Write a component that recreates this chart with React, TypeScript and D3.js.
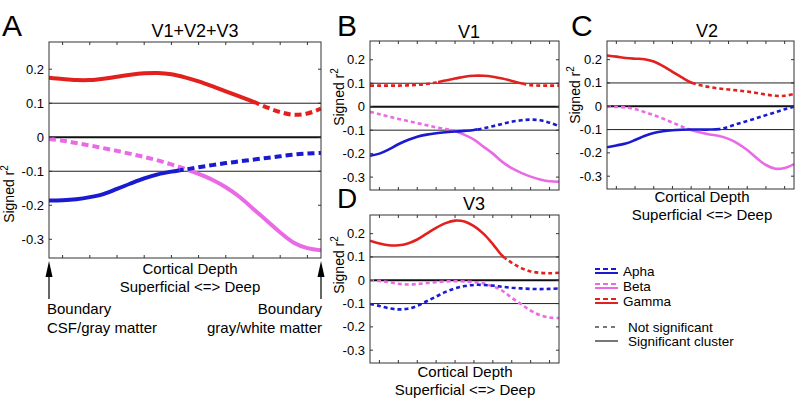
import React, { useEffect, useRef } from 'react';
import * as d3 from 'd3';

// cortical depth samples (box spans 0..10)
const depth = [0, 0.5, 1, 1.5, 2, 2.5, 3, 3.5, 4, 4.5, 5, 5.5, 6, 6.5, 7, 7.5, 8, 8.5, 9, 9.5, 10];

// V1+V2+V3
const allAlpha = [-0.186, -0.185, -0.182, -0.176, -0.167, -0.152, -0.136, -0.121, -0.109, -0.101, -0.095, -0.088, -0.082, -0.076, -0.071, -0.066, -0.061, -0.056, -0.051, -0.048, -0.046];
const allBeta = [-0.005, -0.01, -0.017, -0.024, -0.032, -0.04, -0.049, -0.058, -0.068, -0.08, -0.093, -0.108, -0.125, -0.147, -0.175, -0.21, -0.245, -0.28, -0.31, -0.326, -0.332];
const allGamma = [0.175, 0.171, 0.168, 0.168, 0.172, 0.178, 0.184, 0.188, 0.189, 0.185, 0.176, 0.164, 0.15, 0.135, 0.12, 0.105, 0.088, 0.074, 0.066, 0.07, 0.084];

// V1
const v1Alpha = [-0.209, -0.2, -0.182, -0.16, -0.142, -0.128, -0.119, -0.113, -0.109, -0.106, -0.103, -0.099, -0.092, -0.083, -0.073, -0.064, -0.058, -0.055, -0.058, -0.068, -0.083];
const v1Beta = [-0.022, -0.032, -0.042, -0.052, -0.061, -0.07, -0.079, -0.088, -0.095, -0.104, -0.12, -0.14, -0.17, -0.2, -0.235, -0.262, -0.282, -0.298, -0.31, -0.318, -0.32];
const v1Gamma = [0.09, 0.09, 0.09, 0.09, 0.091, 0.093, 0.097, 0.103, 0.112, 0.12, 0.128, 0.132, 0.132, 0.128, 0.12, 0.11, 0.1, 0.092, 0.09, 0.09, 0.09];

// V2
const v2Alpha = [-0.176, -0.168, -0.16, -0.145, -0.128, -0.115, -0.107, -0.103, -0.101, -0.1, -0.1, -0.1, -0.098, -0.088, -0.075, -0.063, -0.051, -0.038, -0.026, -0.013, -0.002];
const v2Beta = [-0.002, -0.003, -0.005, -0.012, -0.025, -0.038, -0.053, -0.07, -0.087, -0.102, -0.113, -0.121, -0.128, -0.14, -0.16, -0.188, -0.222, -0.252, -0.268, -0.265, -0.248];
const v2Gamma = [0.218, 0.213, 0.207, 0.204, 0.202, 0.192, 0.172, 0.148, 0.124, 0.102, 0.09, 0.082, 0.076, 0.072, 0.068, 0.063, 0.057, 0.05, 0.045, 0.045, 0.053];

// V3
const v3Alpha = [-0.102, -0.11, -0.12, -0.125, -0.122, -0.11, -0.09, -0.07, -0.05, -0.035, -0.025, -0.02, -0.02, -0.023, -0.028, -0.032, -0.035, -0.037, -0.038, -0.037, -0.035];
const v3Beta = [0, -0.003, -0.008, -0.015, -0.018, -0.016, -0.012, -0.008, -0.005, -0.004, -0.005, -0.008, -0.013, -0.026, -0.045, -0.075, -0.103, -0.13, -0.15, -0.16, -0.162];
const v3Gamma = [0.17, 0.158, 0.15, 0.15, 0.158, 0.175, 0.2, 0.225, 0.245, 0.256, 0.252, 0.232, 0.2, 0.155, 0.105, 0.075, 0.052, 0.038, 0.032, 0.03, 0.032];

// significant clusters, [from, to] in depth units
const allSig = { alpha: [[0, 4.8]], beta: [[5.1, 10]], gamma: [[0, 7.65]] };
const v1Sig = { alpha: [[0, 5.7]], beta: [[4.3, 10]], gamma: [[3.6, 8.1]] };
const v2Sig = { alpha: [[0, 6.05]], beta: [[4.45, 10]], gamma: [[0, 4.6]] };
const v3Sig = { alpha: [], beta: [], gamma: [[0, 7.1]] };

const yTicks = [-0.3, -0.2, -0.1, 0, 0.1, 0.2];
const xTicks = [0.5, 1.5, 2.5, 3.5, 4.5, 5.5, 6.5, 7.5, 8.5, 9.5];
const refLines = [-0.1, 0.1];

const bandNames = ['Apha', 'Beta', 'Gamma'];
const COLORS = { alpha: '#1a1ad0', beta: '#ea6ae6', gamma: '#e2211e' };
const FONT = '"Liberation Sans", Arial, sans-serif';

const panels = [
  {
    id: 'A', title: 'V1+V2+V3', left: 49, right: 321, top: 42, bottom: 258,
    data: { alpha: allAlpha, beta: allBeta, gamma: allGamma }, sig: allSig,
    lw: 4, dash: '7,4', titleX: 195, titleY: 37, letterX: 2, letterY: 36,
    ylabX: 14, ylabY: 194, xlab: { x: 190, y1: 274, y2: 292 }
  },
  {
    id: 'B', title: 'V1', left: 370, right: 559, top: 41, bottom: 190,
    data: { alpha: v1Alpha, beta: v1Beta, gamma: v1Gamma }, sig: v1Sig,
    lw: 2.6, dash: '4,3', titleX: 469, titleY: 38, letterX: 337, letterY: 36,
    ylabX: 344, ylabY: 97, xlab: null
  },
  {
    id: 'C', title: 'V2', left: 607, right: 794, top: 41, bottom: 189,
    data: { alpha: v2Alpha, beta: v2Beta, gamma: v2Gamma }, sig: v2Sig,
    lw: 2.6, dash: '4,3', titleX: 707, titleY: 37, letterX: 571, letterY: 36,
    ylabX: 580, ylabY: 95, xlab: { x: 702, y1: 202, y2: 220 }
  },
  {
    id: 'D', title: 'V3', left: 370, right: 559, top: 215, bottom: 363,
    data: { alpha: v3Alpha, beta: v3Beta, gamma: v3Gamma }, sig: v3Sig,
    lw: 2.6, dash: '4,3', titleX: 474, titleY: 210, letterX: 337, letterY: 208,
    ylabX: 344, ylabY: 265, xlab: { x: 465, y1: 377, y2: 395 }
  }
];

const App = () => {
  const svgRef = useRef(null);

  useEffect(() => {
    const svg = d3.select(svgRef.current);
    svg.selectAll('*').remove();
    const defs = svg.append('defs');

    panels.forEach(p => {
      const x = d3.scaleLinear().domain([0, 10]).range([p.left, p.right]);
      const y = d3.scaleLinear().domain([-0.355, 0.28]).range([p.bottom, p.top]);
      const g = svg.append('g');

      // reference lines
      g.selectAll('.ref')
        .data(refLines)
        .join('line')
        .attr('x1', p.left).attr('x2', p.right)
        .attr('y1', d => y(d)).attr('y2', d => y(d))
        .attr('stroke', '#222').attr('stroke-width', 1);
      g.append('line')
        .attr('x1', p.left).attr('x2', p.right)
        .attr('y1', y(0)).attr('y2', y(0))
        .attr('stroke', '#111').attr('stroke-width', 2);

      const line = d3.line()
        .x((d, i) => x(depth[i]))
        .y(d => y(d))
        .curve(d3.curveCatmullRom.alpha(0.5));

      ['gamma', 'beta', 'alpha'].forEach(key => {
        const vals = p.data[key];
        const sig = p.sig[key];
        // complement of significant ranges
        const nonSig = [];
        let cur = 0;
        sig.forEach(([a, b]) => { if (a > cur) nonSig.push([cur, a]); cur = b; });
        if (cur < 10) nonSig.push([cur, 10]);

        const makeClip = (id, ranges) => {
          const cp = defs.append('clipPath').attr('id', id);
          ranges.forEach(([a, b]) => {
            cp.append('rect')
              .attr('x', x(a)).attr('width', x(b) - x(a))
              .attr('y', p.top - 10).attr('height', p.bottom - p.top + 20);
          });
        };
        const sid = `clip-${p.id}-${key}-s`;
        const nid = `clip-${p.id}-${key}-n`;
        makeClip(sid, sig);
        makeClip(nid, nonSig);

        if (nonSig.length) {
          g.append('path')
            .attr('d', line(vals))
            .attr('clip-path', `url(#${nid})`)
            .attr('fill', 'none')
            .attr('stroke', COLORS[key])
            .attr('stroke-width', p.lw)
            .attr('stroke-dasharray', p.dash);
        }
        if (sig.length) {
          g.append('path')
            .attr('d', line(vals))
            .attr('clip-path', `url(#${sid})`)
            .attr('fill', 'none')
            .attr('stroke', COLORS[key])
            .attr('stroke-width', p.lw);
        }
      });

      // box
      g.append('rect')
        .attr('x', p.left).attr('y', p.top)
        .attr('width', p.right - p.left).attr('height', p.bottom - p.top)
        .attr('fill', 'none').attr('stroke', '#333').attr('stroke-width', 1);

      // ticks, inward
      xTicks.forEach(t => {
        g.append('line').attr('x1', x(t)).attr('x2', x(t)).attr('y1', p.top).attr('y2', p.top + 3).attr('stroke', '#333');
        g.append('line').attr('x1', x(t)).attr('x2', x(t)).attr('y1', p.bottom).attr('y2', p.bottom - 3).attr('stroke', '#333');
      });
      yTicks.forEach(t => {
        g.append('line').attr('x1', p.left).attr('x2', p.left + 3).attr('y1', y(t)).attr('y2', y(t)).attr('stroke', '#333');
        g.append('line').attr('x1', p.right).attr('x2', p.right - 3).attr('y1', y(t)).attr('y2', y(t)).attr('stroke', '#333');
        g.append('text')
          .attr('x', p.left - 5).attr('y', y(t))
          .attr('text-anchor', 'end').attr('dominant-baseline', 'central')
          .style('font-family', FONT).style('font-size', '13px')
          .text(t === 0 ? '0' : d3.format('.1f')(t).replace('−', '-'));
      });

      // titles & letters
      g.append('text').attr('x', p.titleX).attr('y', p.titleY).attr('text-anchor', 'middle')
        .style('font-family', FONT).style('font-size', '18px').text(p.title);
      g.append('text').attr('x', p.letterX).attr('y', p.letterY)
        .style('font-family', FONT).style('font-size', p.id === 'D' ? '28px' : '30px').text(p.id);

      // y label
      const yl = g.append('text')
        .attr('transform', `translate(${p.ylabX},${p.ylabY}) rotate(-90)`)
        .attr('text-anchor', 'middle')
        .style('font-family', FONT).style('font-size', '14px');
      yl.append('tspan').text('Signed r');
      yl.append('tspan').attr('dy', -6).style('font-size', '10px').text('2');

      if (p.xlab) {
        g.append('text').attr('x', p.xlab.x).attr('y', p.xlab.y1).attr('text-anchor', 'middle')
          .style('font-family', FONT).style('font-size', '15px').text('Cortical Depth');
        g.append('text').attr('x', p.xlab.x).attr('y', p.xlab.y2).attr('text-anchor', 'middle')
          .style('font-family', FONT).style('font-size', '15px').text('Superficial <=> Deep');
      }

      if (p.id === 'A') {
        [p.left, p.right].forEach(ax => {
          g.append('line').attr('x1', ax).attr('x2', ax).attr('y1', 299).attr('y2', 274)
            .attr('stroke', '#000').attr('stroke-width', 1.2);
          g.append('path')
            .attr('d', `M${ax},261 L${ax - 3.5},277 L${ax + 3.5},277 Z`)
            .attr('fill', '#000');
        });
        const txt = (s, tx, ty, anchor) => g.append('text').attr('x', tx).attr('y', ty)
          .attr('text-anchor', anchor).style('font-family', FONT).style('font-size', '15px').text(s);
        txt('Boundary', p.left - 2, 314, 'start');
        txt('CSF/gray matter', p.left - 2, 333, 'start');
        txt('Boundary', p.right + 1, 314, 'end');
        txt('gray/white matter', p.right + 1, 333, 'end');
      }
    });

    // legend
    const lg = svg.append('g');
    const lx0 = 595, lx1 = 618;
    ['alpha', 'beta', 'gamma'].forEach((key, i) => {
      const ly = 271 + i * 15;
      lg.append('line').attr('x1', lx0).attr('x2', lx1).attr('y1', ly - 2).attr('y2', ly - 2)
        .attr('stroke', COLORS[key]).attr('stroke-width', 2).attr('stroke-dasharray', '5,3');
      lg.append('line').attr('x1', lx0).attr('x2', lx1).attr('y1', ly + 2).attr('y2', ly + 2)
        .attr('stroke', COLORS[key]).attr('stroke-width', 2);
      lg.append('text').attr('x', 623).attr('y', ly).attr('dominant-baseline', 'central')
        .style('font-family', FONT).style('font-size', '13.5px').text(bandNames[i]);
    });
    lg.append('line').attr('x1', lx0).attr('x2', lx1).attr('y1', 327).attr('y2', 327)
      .attr('stroke', '#777').attr('stroke-width', 2).attr('stroke-dasharray', '4,4');
    lg.append('text').attr('x', 628).attr('y', 327).attr('dominant-baseline', 'central')
      .style('font-family', FONT).style('font-size', '13.5px').text('Not significant');
    lg.append('line').attr('x1', lx0).attr('x2', lx1).attr('y1', 341).attr('y2', 341)
      .attr('stroke', '#777').attr('stroke-width', 2);
    lg.append('text').attr('x', 628).attr('y', 341).attr('dominant-baseline', 'central')
      .style('font-family', FONT).style('font-size', '13.5px').text('Significant cluster');
  }, []);

  return (
    <svg
      ref={svgRef}
      width={796}
      height={400}
      style={{ position: 'absolute', left: 0, top: 0, background: '#fff' }}
    />
  );
};

export default App;
